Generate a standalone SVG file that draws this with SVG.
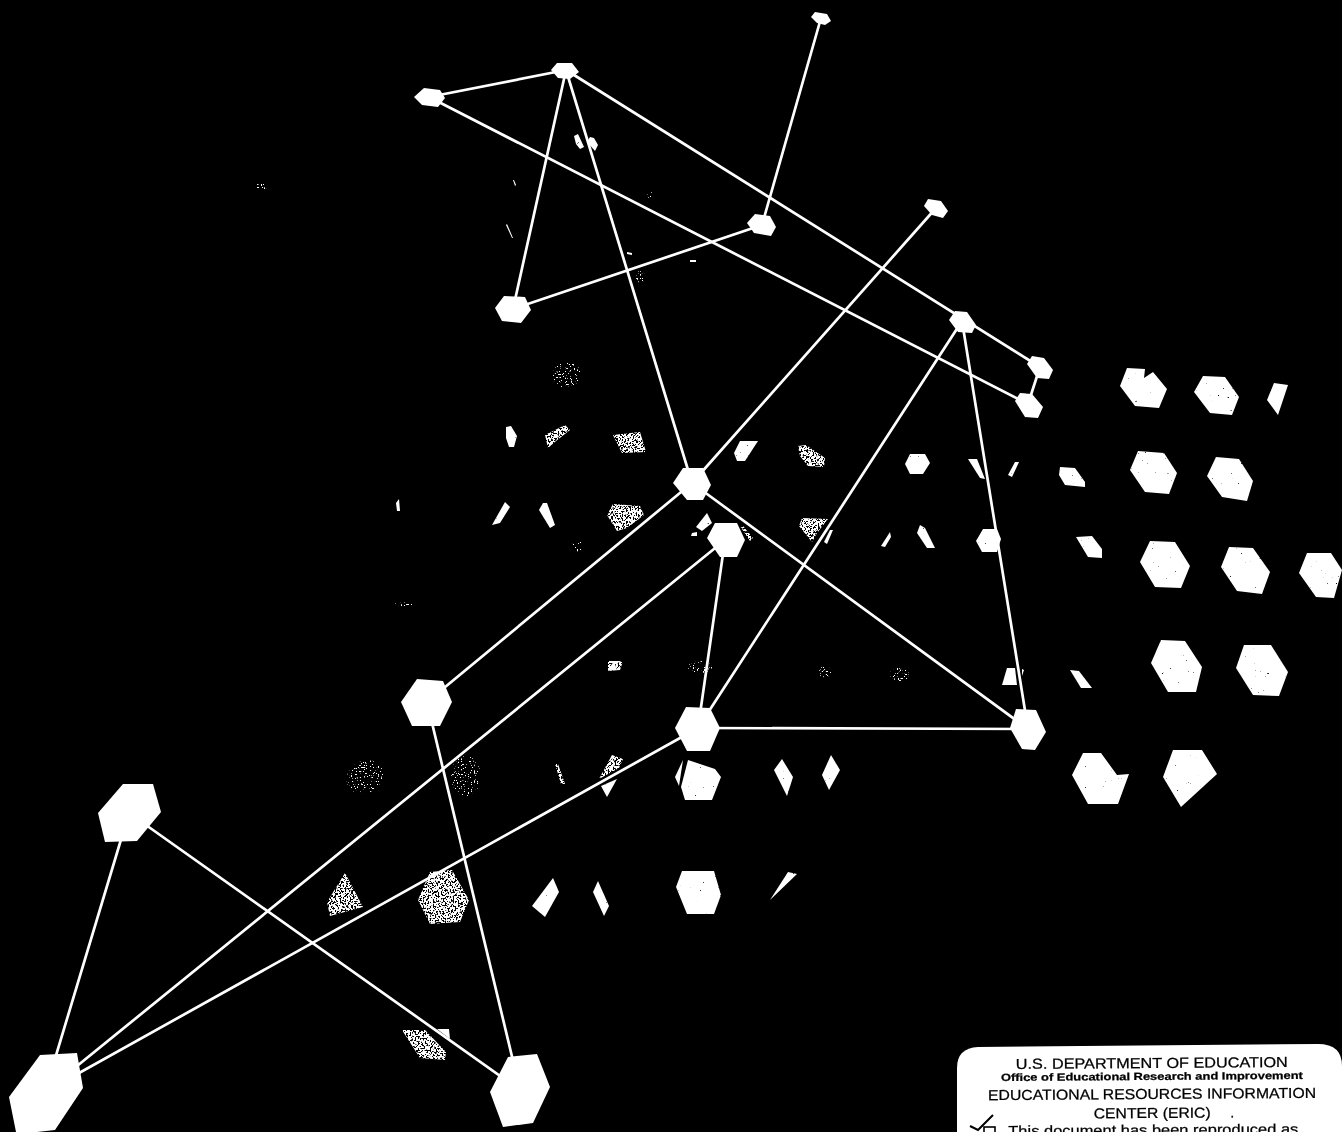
<svg xmlns="http://www.w3.org/2000/svg" width="1342" height="1132" viewBox="0 0 1342 1132">
<defs>
<filter id="pit" x="-5%" y="-5%" width="110%" height="110%" color-interpolation-filters="sRGB"><feTurbulence type="fractalNoise" baseFrequency="0.4" numOctaves="2" seed="4"/><feColorMatrix values="0 0 0 0 1 0 0 0 0 1 0 0 0 0 1 14 0 0 0 -2.1"/><feComposite in="SourceGraphic" operator="in"/></filter>
<filter id="med" x="-5%" y="-5%" width="110%" height="110%" color-interpolation-filters="sRGB"><feTurbulence type="fractalNoise" baseFrequency="0.6" numOctaves="2" seed="9"/><feColorMatrix values="0 0 0 0 1 0 0 0 0 1 0 0 0 0 1 18 0 0 0 -7.6"/><feComposite in="SourceGraphic" operator="in"/></filter>
<filter id="sparse" x="-5%" y="-5%" width="110%" height="110%" color-interpolation-filters="sRGB"><feTurbulence type="fractalNoise" baseFrequency="0.7" numOctaves="2" seed="13"/><feColorMatrix values="0 0 0 0 1 0 0 0 0 1 0 0 0 0 1 18 0 0 0 -11.4"/><feComposite in="SourceGraphic" operator="in"/></filter>
</defs>
<style>
.n polygon,.g polygon,.g ellipse{fill:#fff}
.c line{stroke:#fff;stroke-width:2.7;stroke-linecap:round}
.t{font-family:"Liberation Sans",Arial,sans-serif;fill:#000;text-anchor:middle;stroke:#000;stroke-width:.25}
</style>
<rect width="1342" height="1132" fill="#000"/>

<g id="faint-shapes" class="g">
<g filter="url(#pit)">
<polygon points="1127,368 1145,369 1144,378 1153,372 1167,389 1159,408 1135,406 1120,386"/>
<polygon points="1203,376 1225,377 1239,397 1232,415 1210,413 1194,392"/>
<polygon points="1274,383 1288,385 1278,415 1267,400"/>
<polygon points="1060,467 1075,468 1085,482 1085,487 1065,485 1059,475"/>
<polygon points="1138,451 1164,453 1177,473 1169,494 1145,492 1130,470"/>
<polygon points="1216,457 1239,459 1253,481 1247,501 1222,497 1207,476"/>
<polygon points="1076,537 1092,536 1102,549 1102,558 1088,557"/>
<polygon points="1150,541 1175,542 1190,566 1181,588 1155,587 1140,562"/>
<polygon points="1229,547 1253,548 1270,572 1262,594 1237,591 1221,567"/>
<polygon points="1307,553 1331,553 1342,570 1334,598 1316,597 1299,573"/>
<polygon points="1070,670 1079,671 1092,688 1081,688"/>
<polygon points="1161,640 1185,641 1202,667 1196,692 1168,692 1151,663"/>
<polygon points="1244,645 1271,645 1288,672 1279,696 1253,695 1236,668"/>
<polygon points="1083,753 1101,753 1117,775 1129,774 1118,804 1088,804 1072,775"/>
<polygon points="1173,750 1202,750 1217,774 1181,807 1163,777"/>
<polygon points="740,441 758,441 745,461 737,461 734,453"/>
<polygon points="910,454 925,454 930,463 923,474 910,474 905,464"/>
<polygon points="968,459 977,459 985,479 980,478"/>
<polygon points="1015,462 1019,462 1012,477 1008,475"/>
<polygon points="890,532 891,537 885,547 881,546"/>
<polygon points="920,525 925,528 935,548 927,548 917,533"/>
<polygon points="983,529 997,529 1001,539 997,552 982,552 976,541"/>
<polygon points="830,530 833,530 827,544 824,542"/>
<polygon points="1007,668 1015,668 1017,685 1002,685"/>
<polygon points="1022,669 1024,670 1022,676"/>
<polygon points="396,503 399,499 400,511 397,511"/>
<polygon points="505,502 510,507 500,523 492,525"/>
<polygon points="543,503 547,503 555,525 550,528 539,510"/>
<polygon points="707,513 712,523 702,531 696,527"/>
<polygon points="692,533 697,532 697,536 691,536"/>
<polygon points="688,760 715,769 721,777 712,800 685,800 681,787"/>
<polygon points="683,760 675,777 679,786"/>
<polygon points="782,759 793,777 787,796 774,770"/>
<polygon points="601,786 617,779 607,797"/>
<polygon points="553,878 559,892 545,917 532,906"/>
<polygon points="598,881 609,906 604,916 593,892"/>
<polygon points="682,871 714,871 721,895 714,914 687,914 676,887"/>
<polygon points="788,872 797,874 770,900"/>
<polygon points="437,1029 449,1029 450,1039"/>
<polygon points="574,136 578,134 584,147 580,149 576,144"/>
<polygon points="590,137 594,138 598,145 595,151 587,142"/>
<polygon points="506,427 511,426 517,436 514,447 509,447 506,438"/>
<polygon points="608,670 614,661 617,670"/>
<polygon points="831,755 840,770 829,790 822,775"/>
<polygon points="506,225 507,224 513,238 512,238"/>
<polygon points="513,180 514,180 516,185 515,186"/>
<polygon points="627,252 632,253 632,255 627,254"/>
<polygon points="690,260 696,260 696,262 690,262"/>
</g>
<g filter="url(#med)">
<polygon points="613,504 640,506 644,515 627,528 617,531 607,515"/>
<polygon points="802,518 828,519 817,533 812,542 799,526"/>
<polygon points="798,446 806,445 825,458 824,467 808,466 800,456"/>
<polygon points="545,435 565,425 570,430 556,441 548,448"/>
<polygon points="613,435 640,432 646,452 622,453"/>
<polygon points="599,779 612,755 623,759 619,768"/>
<polygon points="345,873 363,907 330,916 327,902"/>
<polygon points="430,872 452,870 469,900 460,922 430,924 418,900"/>
<polygon points="402,1030 425,1030 446,1052 445,1060 420,1058"/>
<polygon points="555,764 558,764 565,784 561,784"/>
<polygon points="608,661 623,661 620,670 608,671"/>
<polygon points="740,526 743,526 753,538 750,541"/>
</g>
<g filter="url(#sparse)">
<ellipse cx="567" cy="375" rx="14" ry="13"/>
<ellipse cx="365" cy="777" rx="19" ry="16" transform="rotate(-30 365 777)"/>
<ellipse cx="466" cy="776" rx="15" ry="20"/>
<ellipse cx="825" cy="672" rx="6" ry="6"/>
<ellipse cx="900" cy="674" rx="10" ry="7"/>
<ellipse cx="700" cy="667" rx="12" ry="6"/>
<ellipse cx="640" cy="277" rx="5" ry="6"/>
<ellipse cx="650" cy="195" rx="3" ry="3"/>
<ellipse cx="578" cy="545" rx="5" ry="8" transform="rotate(-25 578 545)"/>
<ellipse cx="405" cy="604" rx="10" ry="2"/>
<ellipse cx="262" cy="186" rx="6" ry="4"/>
</g>
</g>

<g id="connectors" class="c">
<line x1="429" y1="97" x2="566" y2="70"/>
<line x1="566" y1="70" x2="513" y2="309"/>
<line x1="566" y1="70" x2="692" y2="483"/>
<line x1="566" y1="70" x2="1040" y2="367"/>
<line x1="429" y1="97" x2="1028" y2="404"/>
<line x1="821" y1="18" x2="762" y2="225"/>
<line x1="762" y1="225" x2="513" y2="309"/>
<line x1="936" y1="208" x2="692" y2="483"/>
<line x1="962" y1="321" x2="698" y2="728"/>
<line x1="962" y1="321" x2="1028" y2="729"/>
<line x1="1040" y1="367" x2="1028" y2="404"/>
<line x1="692" y1="483" x2="427" y2="702"/>
<line x1="692" y1="483" x2="1028" y2="729"/>
<line x1="725" y1="540" x2="45" y2="1092"/>
<line x1="725" y1="540" x2="698" y2="728"/>
<line x1="698" y1="728" x2="1028" y2="729"/>
<line x1="698" y1="728" x2="45" y2="1092"/>
<line x1="427" y1="702" x2="520" y2="1090"/>
<line x1="129" y1="813" x2="45" y2="1092"/>
<line x1="129" y1="813" x2="520" y2="1090"/>
</g>

<g class="n">
<g id="n1"><polygon points="557,63 572,63 579,72 570,79 558,78 551,70"/></g>
<g id="n2"><polygon points="424,88 440,90 445,98 438,107 422,105 414,97"/></g>
<g id="n3"><polygon points="815,12 827,14 831,21 825,25 817,23 811,17"/></g>
<g id="n4"><polygon points="755,214 770,216 776,227 771,236 754,233 747,223"/></g>
<g id="n5"><polygon points="504,296 525,297 531,310 521,323 502,321 495,308"/></g>
<g id="n6"><polygon points="928,199 941,201 948,211 943,218 932,215 924,206"/></g>
<g id="n7"><polygon points="955,311 967,312 976,325 972,333 958,332 949,320"/></g>
<g id="n8"><polygon points="1032,356 1044,358 1053,370 1049,379 1037,378 1027,364"/></g>
<g id="n9"><polygon points="1020,393 1032,394 1043,407 1038,418 1025,417 1015,401"/></g>
<g id="n10"><polygon points="683,468 703,468 711,485 703,500 687,500 673,483"/></g>
<g id="n11"><polygon points="715,523 737,523 745,540 737,557 720,557 707,538"/></g>
<g id="n12"><polygon points="417,679 443,681 452,702 440,726 412,726 401,702"/></g>
<g id="n13"><polygon points="686,707 710,708 720,728 710,751 687,751 675,728"/></g>
<g id="n14"><polygon points="1016,709 1036,710 1046,732 1035,750 1022,749 1010,728"/></g>
<g id="n15"><polygon points="123,784 153,784 161,812 137,841 105,842 98,813"/></g>
<g id="n16"><polygon points="40,1055 77,1053 83,1088 55,1130 37,1132 16,1132 9,1097"/></g>
<g id="n17"><polygon points="508,1057 537,1054 550,1087 533,1123 503,1127 490,1092"/></g>
</g>

<g id="eric-notice">
<path d="M978,1047 L1318,1044 Q1342,1044 1342,1066 L1342,1132 L957,1132 L957,1068 Q957,1048 978,1047 Z" fill="#fff"/>
<g transform="rotate(-0.4 1150 1090)">
<text class="t" x="1152" y="1068" font-size="14.5" textLength="272" lengthAdjust="spacingAndGlyphs">U.S. DEPARTMENT OF EDUCATION</text>
<text class="t" x="1152" y="1080" font-size="10.5" font-weight="700" textLength="302" lengthAdjust="spacingAndGlyphs">Office of Educational Research and Improvement</text>
<text class="t" x="1152" y="1099" font-size="14.5" textLength="328" lengthAdjust="spacingAndGlyphs">EDUCATIONAL RESOURCES INFORMATION</text>
<text class="t" x="1152" y="1118" font-size="14.5" textLength="117" lengthAdjust="spacingAndGlyphs">CENTER (ERIC)</text>
<text class="t" x="1232" y="1118" font-size="14.5">.</text>
<text class="t" x="1153" y="1135" font-size="14.5" textLength="290" lengthAdjust="spacingAndGlyphs">This document has been reproduced as</text>
</g>
<path d="M993,1115 L978,1130 L970,1126" fill="none" stroke="#000" stroke-width="2"/>
<rect x="984" y="1127" width="11" height="9" fill="none" stroke="#000" stroke-width="1.6"/>
</g>
</svg>
